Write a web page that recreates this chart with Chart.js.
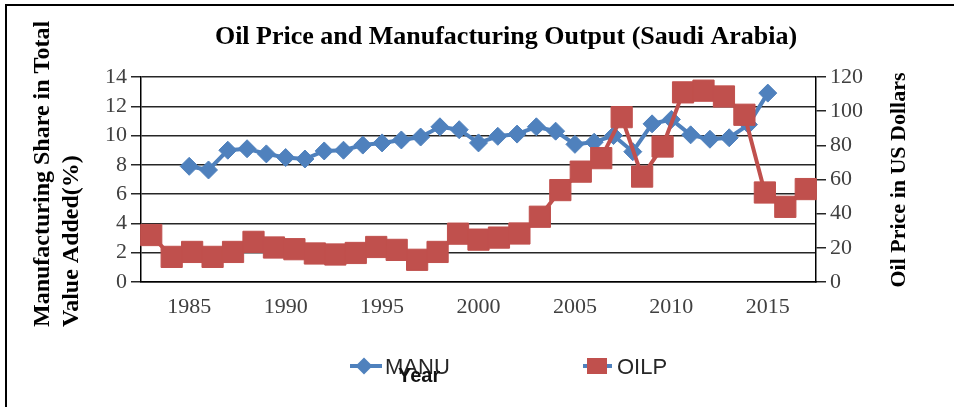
<!DOCTYPE html>
<html><head><meta charset="utf-8">
<script src="https://cdn.jsdelivr.net/npm/chart.js@4.4.1/dist/chart.umd.min.js"></script>
<style>
html,body{margin:0;padding:0;background:#fff;}
#wrap{position:relative;width:954px;height:407px;overflow:hidden;background:#fff;}
#frame{position:absolute;left:5px;top:4px;width:980px;height:440px;border-top:2px solid #000;border-left:2px solid #000;pointer-events:none;}
canvas{display:block;}
</style></head><body>
<div id="wrap"><canvas id="c" width="954" height="407"></canvas><div id="frame"></div></div>
<script>
// Categories (primary axis, MANU) and secondary category axis (OILP)
const years = [1983,1984,1985,1986,1987,1988,1989,1990,1991,1992,1993,1994,1995,1996,1997,1998,1999,2000,2001,2002,2003,2004,2005,2006,2007,2008,2009,2010,2011,2012,2013,2014,2015,2016,2017];
const oilYears = [1985,1986,1987,1988,1989,1990,1991,1992,1993,1994,1995,1996,1997,1998,1999,2000,2001,2002,2003,2004,2005,2006,2007,2008,2009,2010,2011,2012,2013,2014,2015,2016,2017];
// Series values
const manu = [null,null,7.9,7.65,9.0,9.1,8.75,8.5,8.4,8.95,9.0,9.35,9.5,9.7,9.9,10.6,10.4,9.5,9.95,10.1,10.6,10.3,9.4,9.55,10.0,8.9,10.8,11.1,10.05,9.75,9.85,10.75,12.9,null,null];
const oilp = [27.5,14.7,17.6,14.7,17.6,23.5,20.2,19.2,16.7,16.1,17.0,20.5,18.8,13.0,17.6,28.3,24.8,26.0,28.4,38.2,53.8,64.6,72.5,96.5,61.7,79.3,111.0,112.0,108.6,97.9,52.4,44.0,54.4];
// Tick settings
const leftTicks = {min:0, max:14, step:2};
const rightTicks = {min:0, max:120, step:20};
// Texts
const chartTitle = 'Oil Price and Manufacturing Output (Saudi Arabia)';
const leftTitle = ['Manufacturing Share in Total', 'Value Added(%)'];
const rightTitle = 'Oil Price in US Dollars';
const xTitle = 'Year';
const seriesNames = ['MANU', 'OILP'];

const blue = '#4F81BD', red = '#C0504D';
const tickFont = {family:'"Liberation Serif", "Times New Roman", serif', size:22};
const tickColor = '#404040';

const overlay = {
  id: 'overlay',
  afterDraw(chart) {
    const ctx = chart.ctx;
    ctx.save();
    ctx.fillStyle = '#000';
    ctx.font = 'bold 24px "Liberation Serif", serif';
    ctx.textAlign = 'left'; ctx.textBaseline = 'middle';
    leftTitle.forEach((t, i) => {
      ctx.save(); ctx.translate(43 + i * 29, 327); ctx.rotate(-Math.PI / 2);
      ctx.fillText(t, 0, 0); ctx.restore();
    });
    ctx.font = 'bold 22px "Liberation Serif", serif';
    ctx.textAlign = 'center';
    ctx.save(); ctx.translate(899, 180); ctx.rotate(-Math.PI / 2);
    ctx.fillText(rightTitle, 0, 0); ctx.restore();

    // legend
    const ly = 366;
    ctx.lineWidth = 4; ctx.strokeStyle = blue;
    ctx.beginPath(); ctx.moveTo(350, ly); ctx.lineTo(382, ly); ctx.stroke();
    ctx.fillStyle = blue;
    const r = 8.5, cx = 364;
    ctx.beginPath(); ctx.moveTo(cx - r, ly); ctx.lineTo(cx, ly - r); ctx.lineTo(cx + r, ly); ctx.lineTo(cx, ly + r); ctx.closePath(); ctx.fill();
    ctx.beginPath(); ctx.moveTo(583, ly); ctx.lineTo(612, ly); ctx.stroke();
    ctx.fillStyle = red; ctx.fillRect(587, ly - 8, 20, 16);

    ctx.fillStyle = '#262626';
    ctx.font = '22px "Liberation Sans", Arial, sans-serif';
    ctx.textAlign = 'left'; ctx.textBaseline = 'alphabetic';
    ctx.fillText(seriesNames[0], 385, 374);
    ctx.fillText(seriesNames[1], 617, 374);
    ctx.fillStyle = '#111';
    ctx.font = 'bold 20px "Liberation Sans", Arial, sans-serif';
    ctx.fillText(xTitle, 398, 382);
    ctx.restore();
  }
};

new Chart(document.getElementById('c'), {
  type: 'line',
  data: {
    labels: years,
    datasets: [
      {label: seriesNames[0], data: manu, xAxisID:'x', yAxisID:'y', borderColor: blue, backgroundColor: blue,
       borderWidth: 4, pointStyle: 'rectRot', pointRadius: 9, pointBorderWidth: 1, pointBorderColor: blue, pointBackgroundColor: blue, tension: 0, order: 2},
      {label: seriesNames[1], data: oilp, xAxisID:'x2', yAxisID:'y2', borderColor: red, backgroundColor: red,
       borderWidth: 4, pointStyle: 'rect', pointRadius: 15, pointBorderWidth: 1, pointBorderColor: red, pointBackgroundColor: red, tension: 0, order: 1}
    ]
  },
  options: {
    responsive: false, animation: false, devicePixelRatio: 1,
    layout: {padding: {left: 58, right: 0, top: 0, bottom: 0}},
    plugins: {
      legend: {display: false},
      tooltip: {enabled: false},
      title: {display: true, text: chartTitle, color: '#000',
        font: {family: '"Liberation Serif", "Times New Roman", serif', size: 26, weight: 'bold'},
        padding: {top: 22, bottom: 23.8}}
    },
    scales: {
      x: {type: 'category', labels: years, position: 'bottom', offset: true,
        grid: {display: false, drawTicks: false},
        border: {display: true, color: '#000', width: 1.5},
        ticks: {autoSkip: false, maxRotation: 0, minRotation: 0, padding: 12, font: tickFont, color: tickColor,
          callback: function(v, i) { const y = this.getLabelForValue(v); return (y % 5 === 0) ? String(y) : ''; }},
        afterFit: s => { s.height = 125; }
      },
      x2: {type: 'category', labels: oilYears, position: 'bottom', offset: true, display: false},
      y: {type: 'linear', position: 'left', min: leftTicks.min, max: leftTicks.max,
        grid: {color: '#262626', lineWidth: 1.5, tickLength: 10, drawTicks: true},
        border: {display: true, color: '#000', width: 1.5},
        ticks: {stepSize: leftTicks.step, autoSkip: false, maxTicksLimit: 20, padding: 4, font: tickFont, color: tickColor},
        afterFit: s => { s.width = 83; }
      },
      y2: {type: 'linear', position: 'right', min: rightTicks.min, max: rightTicks.max,
        grid: {drawOnChartArea: false, color: '#262626', lineWidth: 1.5, tickLength: 10, drawTicks: true},
        border: {display: true, color: '#000', width: 1.5},
        ticks: {stepSize: rightTicks.step, autoSkip: false, maxTicksLimit: 20, padding: 4, font: tickFont, color: tickColor},
        afterFit: s => { s.width = 138; }
      }
    }
  },
  plugins: [overlay]
});
</script>
</body></html>
